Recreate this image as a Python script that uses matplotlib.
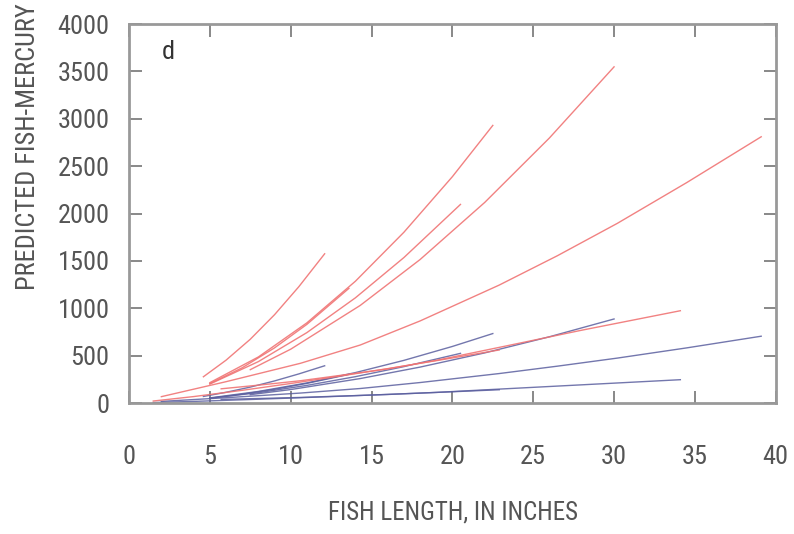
import matplotlib
matplotlib.use('Agg')
import matplotlib.pyplot as plt
from matplotlib import font_manager

# Fish length (inches) and predicted mercury, one pair of curves per site:
# red = high prediction, blue = low prediction
len_a = [4.6, 6, 7.5, 9, 10.5, 12.1]
red_a = [277, 452, 673, 932, 1227, 1575]
blue_a = [69, 113, 168, 233, 307, 393]

len_b = [5, 8, 11, 14, 17, 20, 22.5]
red_b = [215, 486, 846, 1285, 1802, 2389, 2930]
blue_b = [54, 122, 212, 321, 450, 597, 733]

len_c = [5, 8, 11, 14, 17, 20.5]
red_c = [200, 437, 743, 1110, 1535, 2096]
blue_c = [50, 109, 186, 278, 384, 524]

len_d = [5, 7, 9, 11, 13.6]
red_d = [205, 372, 582, 830, 1210]
blue_d = [51, 93, 145, 207, 302]

len_e = [7.5, 10, 14.3, 18, 22, 26, 30]
red_e = [352, 568, 1030, 1514, 2117, 2797, 3548]
blue_e = [88, 142, 258, 379, 529, 699, 887]

len_f = [2.0, 6, 10.6, 14.3, 18, 22.9, 26.5, 30.2, 34.5, 39.1]
red_f = [67, 225, 419, 612, 866, 1245, 1555, 1896, 2327, 2810]
blue_f = [17, 56, 105, 153, 216, 311, 389, 474, 582, 705]

len_g = [5.7, 8.1, 10.6, 14.3, 16, 19, 23.6, 27.9, 34.1]
red_g = [150, 190, 235, 320, 360, 450, 612, 765, 974]
blue_g = [38, 48, 59, 80, 90, 112, 153, 191, 246]

len_h = [1.5, 4, 7, 10, 13, 16, 19.5, 22.9]
red_h = [21, 68, 134, 206, 283, 363, 461, 560]
blue_h = [5, 17, 34, 52, 71, 91, 115, 140]

sites = [
	(len_a, red_a, blue_a),
	(len_b, red_b, blue_b),
	(len_c, red_c, blue_c),
	(len_d, red_d, blue_d),
	(len_e, red_e, blue_e),
	(len_f, red_f, blue_f),
	(len_g, red_g, blue_g),
	(len_h, red_h, blue_h),
]

x_ticks = [0, 5, 10, 15, 20, 25, 30, 35, 40]
y_ticks = [0, 500, 1000, 1500, 2000, 2500, 3000, 3500, 4000]

# pick a narrow face if one is around
names = set(f.name for f in font_manager.fontManager.ttflist)
narrow = [n for n in ['Liberation Sans Narrow', 'Roboto Condensed', 'Open Sans Condensed', 'DejaVu Sans Condensed'] if n in names]
font = narrow + ['DejaVu Sans']
stretch = 'condensed'
size = 19
text_color = '#555555'
frame_color = '#999999'

fig = plt.figure(figsize=(7.94, 5.34), dpi=100)
ax = fig.add_axes([0.1625, 0.2453, 0.8145, 0.7097])

for lengths, red, blue in sites:
	ax.plot(lengths, blue, color='#5b5f9f', lw=1.0, alpha=0.85)
for lengths, red, blue in sites:
	ax.plot(lengths, red, color='#f07474', lw=1.0, alpha=0.9)

ax.set_xlim(0, 40)
ax.set_ylim(0, 4000)
ax.set_xticks(x_ticks)
ax.set_yticks(y_ticks)
ax.tick_params(direction='in', length=9, width=1.4, color='#888888',
	top=True, right=True, labelcolor=text_color, labelsize=size)
ax.tick_params(axis='x', pad=30)
ax.tick_params(axis='y', pad=14)
for label in ax.get_xticklabels() + ax.get_yticklabels():
	label.set_family(font)
	label.set_stretch(stretch)
for spine in ax.spines.values():
	spine.set_color(frame_color)
	spine.set_linewidth(2)

ax.text(0.06, 0.925, 'd', transform=ax.transAxes, fontsize=size, family=font,
	stretch=stretch, color='#333333', ha='center', va='center')

fig.text(0.5705, 0.040, 'FISH LENGTH, IN INCHES', fontsize=18, family=font,
	stretch=stretch, color=text_color, ha='center', va='center')
fig.text(0.035, (534 - 290) / 534, 'PREDICTED FISH-MERCURY CONCENTRATION, IN PARTS PER BILLION',
	fontsize=size, family=font, stretch=stretch, color=text_color, rotation=90,
	ha='center', va='bottom')

fig.savefig('out.png', dpi=100)
